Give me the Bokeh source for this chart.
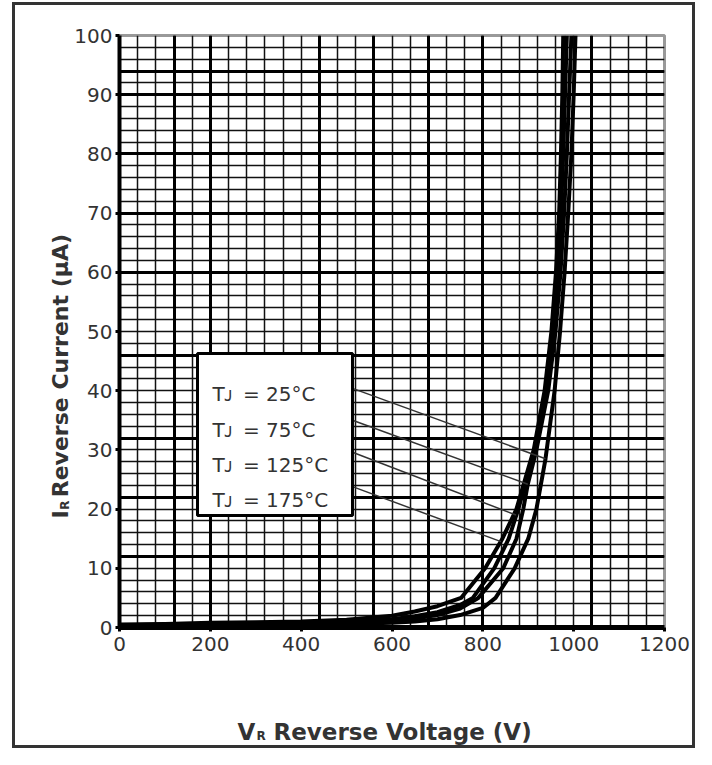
from bokeh.plotting import figure
from bokeh.models import Range1d, FixedTicker, Grid, Label, BoxAnnotation, InlineStyleSheet
from bokeh.embed import file_html
from bokeh.resources import INLINE
import math

# ---------------- data ----------------
v_25 = [0, 100, 200, 300, 400, 500, 600, 650, 700, 750, 800, 828, 870, 900, 918, 938, 958, 970, 980, 988, 995, 1000, 1004]
i_25 = [0.2, 0.3, 0.3, 0.4, 0.5, 0.6, 0.8, 1.0, 1.4, 2.1, 3.3, 5, 10, 15, 20, 28.5, 40, 50, 60, 70, 80, 90, 100]

v_75 = [0, 100, 200, 300, 400, 500, 600, 650, 700, 750, 790, 845, 874, 889, 899, 918, 944, 960, 971, 979, 985, 990, 995]
i_75 = [0.3, 0.4, 0.5, 0.6, 0.6, 0.8, 1.1, 1.5, 2.1, 3.2, 5, 10, 15, 20, 24.2, 30, 40, 50, 60, 70, 80, 90, 100]

v_125 = [0, 100, 200, 300, 400, 500, 600, 650, 700, 750, 778, 825, 857, 878, 915, 940, 955, 965, 972, 977, 981, 985]
i_125 = [0.4, 0.5, 0.6, 0.7, 0.8, 1.0, 1.4, 1.9, 2.6, 3.8, 5, 10, 15, 20, 30, 40, 50, 60, 70, 80, 90, 100]

v_175 = [0, 100, 200, 300, 400, 500, 600, 650, 700, 752, 805, 843, 874, 912, 936, 951, 961, 968, 972, 975, 977]
i_175 = [0.5, 0.6, 0.8, 0.9, 1.0, 1.3, 2.0, 2.7, 3.6, 5, 10, 15, 20, 30, 40, 50, 60, 70, 80, 90, 100]

legend_labels = ["T\u1d0a\u2009 = 25\u00b0C", "T\u1d0a\u2009 = 75\u00b0C",
                 "T\u1d0a\u2009 = 125\u00b0C", "T\u1d0a\u2009 = 175\u00b0C"]
# leader line targets on the curves (V, uA)
leader_v = [938, 899, 873, 840]
leader_i = [28.5, 24.2, 19.0, 14.5]

x_ticks = [0, 200, 400, 600, 800, 1000, 1200]
y_ticks = [0, 10, 20, 30, 40, 50, 60, 70, 80, 90, 100]
x_minor = list(range(0, 1201, 40))
y_minor = list(range(0, 101, 2))
x_heavy = [120, 200, 440, 560, 680, 800, 1040]
y_heavy = [12, 22, 32, 46, 60, 70, 80, 90, 94]

FONT = "DejaVu Sans"
TXT = "#333333"

p = figure(width=696, height=749,
           x_range=Range1d(0, 1200), y_range=Range1d(0, 100),
           output_backend="svg", toolbar_location=None,
           min_border_left=119, min_border_right=32,
           min_border_top=35, min_border_bottom=122)
p.background_fill_color = "white"
p.border_fill_color = "white"
p.outline_line_color = "#999999"
p.outline_line_width = 3
p.stylesheets = [InlineStyleSheet(css=(
    ":host { position: relative; }"
    ":host::after { content: ''; position: absolute; left: 12px; top: 2px; "
    "right: 1px; bottom: 1px; border: 3px solid #333333; "
    "pointer-events: none; z-index: 50; }"))]

# grids
p.xgrid.ticker = FixedTicker(ticks=x_minor)
p.ygrid.ticker = FixedTicker(ticks=y_minor)
for g in (p.xgrid, p.ygrid):
    g.grid_line_color = "#111111"
    g.grid_line_width = 1.5
p.add_layout(Grid(dimension=0, ticker=FixedTicker(ticks=x_heavy),
                  grid_line_color="black", grid_line_width=3))
p.add_layout(Grid(dimension=1, ticker=FixedTicker(ticks=y_heavy),
                  grid_line_color="black", grid_line_width=3))

# axes
p.xaxis.ticker = FixedTicker(ticks=x_ticks)
p.yaxis.ticker = FixedTicker(ticks=y_ticks)
for ax in (p.xaxis, p.yaxis):
    ax.axis_line_color = "black"
    ax.major_tick_line_color = "black"
    ax.major_tick_line_width = 3
    ax.major_tick_out = 4
    ax.major_tick_in = 0
    ax.minor_tick_line_color = None
    ax.major_label_text_font = FONT
    ax.major_label_text_font_size = "20px"
    ax.major_label_text_color = TXT
p.xaxis.axis_line_width = 5
p.yaxis.axis_line_width = 4
p.xaxis.major_label_standoff = 5
p.yaxis.major_label_standoff = 3

# curves
for v, i in ((v_25, i_25), (v_75, i_75), (v_125, i_125), (v_175, i_175)):
    p.line(v, i, line_color="black", line_width=4, line_join="round")

# legend box
p.add_layout(BoxAnnotation(left=171.7, right=513.0, top=46.3, bottom=18.9,
                           fill_color="white", fill_alpha=1.0,
                           line_color="black", line_alpha=1.0, line_width=3))
text_y = [39.4, 33.4, 27.5, 21.6]
start_y = [40.4, 35.0, 29.6, 23.8]
p.segment(x0=[513.0] * 4, y0=start_y, x1=leader_v, y1=leader_i,
          line_color=TXT, line_width=1.5)
for lbl, ty in zip(legend_labels, text_y):
    p.add_layout(Label(x=204.8, y=ty, text=lbl, text_font=FONT,
                       text_font_size="20px", text_color=TXT,
                       text_baseline="alphabetic", text_align="left"))

# axis titles (placed in side panels so they are not clipped to the frame)
p.add_layout(Label(x=259.8, y=-17.6, text="V", text_font=FONT, text_font_style="bold",
                   text_font_size="23px", text_color=TXT, text_baseline="alphabetic"), "below")
p.add_layout(Label(x=301.6, y=-18.4, text="R", text_font=FONT, text_font_style="bold",
                   text_font_size="12px", text_color=TXT, text_baseline="alphabetic"), "below")
p.add_layout(Label(x=339.1, y=-17.6, text="Reverse Voltage (V)", text_font=FONT,
                   text_font_style="bold", text_font_size="23px", text_color=TXT,
                   text_baseline="alphabetic"), "below")

ang = math.pi / 2
p.add_layout(Label(x=-129.9, y=18.4, text="I", angle=ang, text_font=FONT,
                   text_font_style="bold", text_font_size="22px", text_color=TXT,
                   text_baseline="alphabetic"), "above")
p.add_layout(Label(x=-121.1, y=19.9, text="R", angle=ang, text_font=FONT,
                   text_font_style="bold", text_font_size="12px", text_color=TXT,
                   text_baseline="alphabetic"), "above")
p.add_layout(Label(x=-129.9, y=22.0, text="Reverse Current (\u00b5A)", angle=ang,
                   text_font=FONT, text_font_style="bold", text_font_size="22px",
                   text_color=TXT, text_baseline="alphabetic"), "left")

open("out.html", "w").write(file_html(p, INLINE))
